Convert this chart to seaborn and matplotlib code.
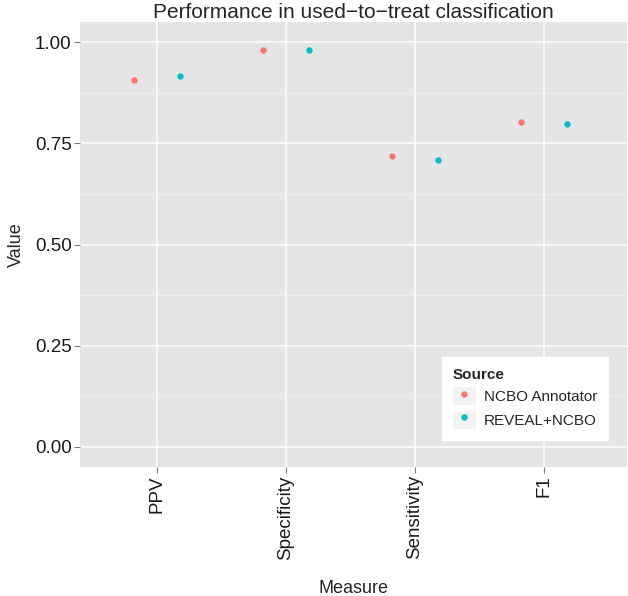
import matplotlib
matplotlib.use("Agg")
import matplotlib.pyplot as plt
import seaborn as sns
import pandas as pd
from matplotlib.lines import Line2D
from matplotlib.patches import Patch
from matplotlib.legend_handler import HandlerTuple

measures = ["PPV", "Specificity", "Sensitivity", "F1"]
sources = ["NCBO Annotator", "REVEAL+NCBO"]
ncbo_values = [0.906, 0.980, 0.720, 0.802]
reveal_values = [0.917, 0.982, 0.708, 0.798]
y_ticks = [0.00, 0.25, 0.50, 0.75, 1.00]
y_ticklabels = ["0.00", "0.25", "0.50", "0.75", "1.00"]
colors = ["#F8766D", "#00BFC4"]

df = pd.DataFrame({
    "Measure": measures * 2,
    "Value": ncbo_values + reveal_values,
    "Source": [sources[0]] * 4 + [sources[1]] * 4,
})

sns.set_theme(style="white")
plt.rcParams["font.family"] = ["Liberation Sans", "DejaVu Sans"]

fig = plt.figure(figsize=(6.28, 5.96), dpi=100)
ax = fig.add_axes([80 / 628, 1 - 467 / 596, 547 / 628, 445 / 596])
ax.set_facecolor("#E5E5E8")

sns.pointplot(data=df, x="Measure", y="Value", hue="Source", order=measures,
              hue_order=sources, palette=colors, dodge=0.352, errorbar=None,
              markers="o", linestyles="none", markersize=4.6,
              markeredgewidth=0, ax=ax, legend=False, zorder=3)

ax.set_xlim(-0.597, 3.645)
ax.set_ylim(-0.05, 1.05)
ax.set_yticks(y_ticks)
ax.set_yticklabels(y_ticklabels)
ax.set_yticks([0.125, 0.375, 0.625, 0.875], minor=True)
ax.grid(True, which="major", color="white", linewidth=1.1, zorder=0)
ax.grid(True, which="minor", axis="y", color="#F2F2F2", linewidth=0.6, zorder=0)
ax.set_axisbelow(True)
for s in ax.spines.values():
    s.set_visible(False)

ax.tick_params(axis="both", which="major", length=4, width=0.8, color="#7F7F7F",
               labelsize=13.5, labelcolor="#1A1A1A", pad=2, bottom=True, left=True)
ax.tick_params(axis="both", which="minor", length=0)
for lab in ax.get_xticklabels():
    lab.set_rotation(90)

ax.set_xlabel("Measure", fontsize=13, labelpad=15)
ax.set_ylabel("Value", fontsize=13, labelpad=7)
ax.set_title("Performance in used\u2212to\u2212treat classification", fontsize=15, pad=3)

handles = []
for c in colors:
    bg = Patch(facecolor="#F2F2F2", edgecolor="white", linewidth=1)
    dot = Line2D([], [], marker="o", color=c, linestyle="none", markersize=4.6,
                 markeredgewidth=0)
    handles.append((bg, dot))
leg = ax.legend(handles, sources, title="Source", loc="lower right",
                bbox_to_anchor=(0.965, 0.061), borderaxespad=0, frameon=True,
                fancybox=False, facecolor="white", edgecolor="white", framealpha=1,
                fontsize=11, title_fontsize=11, handlelength=1.55, handleheight=1.55,
                handletextpad=0.5, borderpad=0.7, labelspacing=0.3,
                handler_map={tuple: HandlerTuple(ndivide=1, pad=0)})
leg.get_title().set_fontweight("bold")
leg._legend_box.align = "left"

fig.savefig("out.png", dpi=100)
